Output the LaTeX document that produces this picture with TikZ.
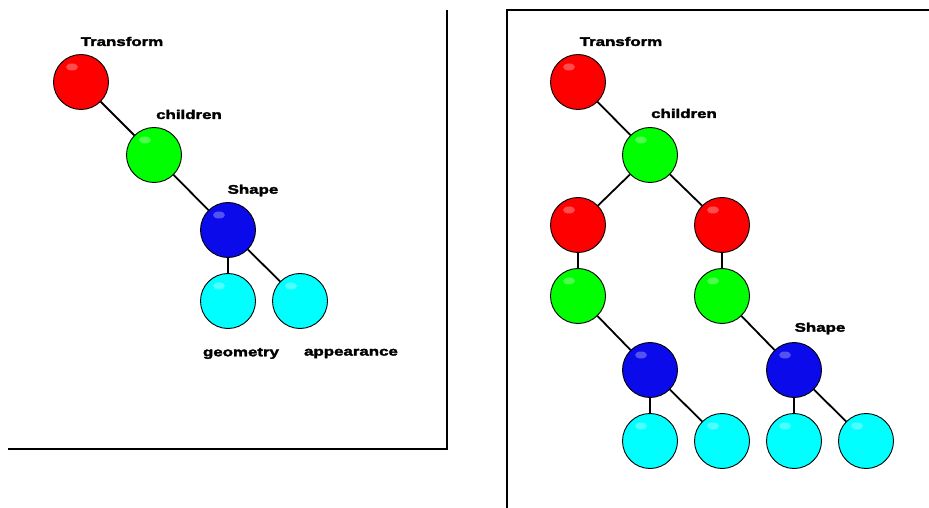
\documentclass[tikz,border=0pt]{standalone}
\usepackage{fontspec}
\newfontfamily\lblfont[FakeStretch=1.35,FakeBold=2.5]{Liberation Sans}
\definecolor{ballred}{RGB}{255,0,0}
\definecolor{ballgreen}{RGB}{0,255,0}
\definecolor{ballblue}{RGB}{10,10,235}
\definecolor{ballcyan}{RGB}{0,255,255}
\tikzset{
  ball/.style={circle, draw=black, line width=0.9bp, minimum size=55bp, inner sep=0pt, fill=#1,
    path picture={\fill[white, opacity=0.3, rotate=30] ([xshift=-9bp,yshift=15bp]path picture bounding box.center) ellipse (6bp and 3.5bp);}},
  lbl/.style={inner sep=0pt, font=\lblfont\bfseries\fontsize{12.5bp}{14bp}\selectfont},
  edge/.style={draw=black, line width=1.8bp},
  frame/.style={draw=black, line width=1.2bp},
}
\begin{document}
\begin{tikzpicture}[x=1bp, y=-1bp]
\useasboundingbox (0,0) rectangle (929,508);
% frames
\coordinate (lf1) at (8,449);
\coordinate (lf2) at (447,449);
\coordinate (lf3) at (447,10);
\draw[frame] (lf1) -- (lf2) -- (lf3);
\coordinate (rf1) at (507,508);
\coordinate (rf2) at (507,10);
\coordinate (rf3) at (929,10);
\draw[frame, line width=2bp] (rf1) -- (rf2) -- (rf3);

% left tree
\node[ball=ballred] (lT) at (81,82) {};
\node[ball=ballgreen] (lC) at (154,155) {};
\node[ball=ballblue] (lS) at (228,230) {};
\node[ball=ballcyan] (lG) at (228,301) {};
\node[ball=ballcyan] (lA) at (300,301) {};
\draw[edge] (lT) -- (lC);
\draw[edge] (lC) -- (lS);
\draw[edge] (lS) -- (lG);
\draw[edge] (lS) -- (lA);
\node[lbl] (lTl) at (122,41.5) {Transform};
\node[lbl] (lCl) at (189,114.5) {children};
\node[lbl] (lSl) at (253,190.5) {Shape};
\node[lbl] (lGl) at (241,353.5) {geometry};
\node[lbl] (lAl) at (351,353.5) {appearance};

% right tree
\node[ball=ballred] (rT) at (578,82) {};
\node[ball=ballgreen] (rC) at (650,155) {};
\node[ball=ballred] (rR1) at (578,225) {};
\node[ball=ballred] (rR2) at (722,225) {};
\node[ball=ballgreen] (rG1) at (578,296) {};
\node[ball=ballgreen] (rG2) at (722,296) {};
\node[ball=ballblue] (rB1) at (650,370) {};
\node[ball=ballblue] (rB2) at (794,370) {};
\node[ball=ballcyan] (rc1) at (650,441) {};
\node[ball=ballcyan] (rc2) at (722,441) {};
\node[ball=ballcyan] (rc3) at (794,441) {};
\node[ball=ballcyan] (rc4) at (866,441) {};
\draw[edge] (rT) -- (rC);
\draw[edge] (rC) -- (rR1);
\draw[edge] (rC) -- (rR2);
\draw[edge] (rR1) -- (rG1);
\draw[edge] (rR2) -- (rG2);
\draw[edge] (rG1) -- (rB1);
\draw[edge] (rG2) -- (rB2);
\draw[edge] (rB1) -- (rc1);
\draw[edge] (rB1) -- (rc2);
\draw[edge] (rB2) -- (rc3);
\draw[edge] (rB2) -- (rc4);
\node[lbl] (rTl) at (621,41.5) {Transform};
\node[lbl] (rCl) at (684,113.5) {children};
\node[lbl] (rSl) at (820,328.5) {Shape};
\end{tikzpicture}
\end{document}
